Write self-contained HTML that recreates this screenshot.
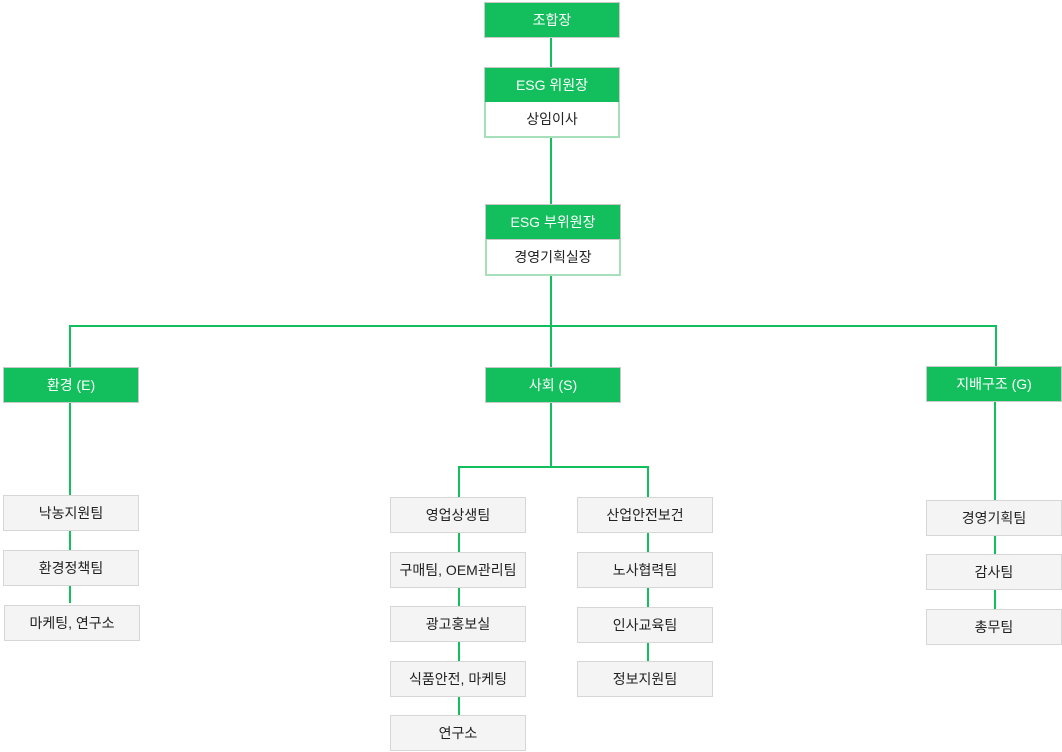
<!DOCTYPE html>
<html><head><meta charset="utf-8"><style>
body{margin:0;width:1062px;height:752px;background:#fff;position:relative;overflow:hidden;font-family:"Liberation Sans","Noto Sans CJK KR",sans-serif;font-size:14px}
.b{position:absolute;box-sizing:border-box;display:flex;align-items:center;justify-content:center;width:136px;height:36px}
.g{background:#12bf5c;color:#fff;border:1px solid #c9c9c9}
.w{background:#fff;color:#222;border:2px solid #a5e0bb;border-top:none}
.s{background:#f4f4f4;color:#222;border:1.5px solid #d6d6d6}
.l{position:absolute;background:#12bf5c}
</style></head><body>
<div class="l" style="left:550px;top:37px;width:2px;height:30px"></div>
<div class="l" style="left:550px;top:138px;width:2px;height:66px"></div>
<div class="l" style="left:550px;top:276px;width:2px;height:91px"></div>
<div class="l" style="left:69px;top:325px;width:928px;height:2px"></div>
<div class="l" style="left:69px;top:325px;width:2px;height:42px"></div>
<div class="l" style="left:995px;top:325px;width:2px;height:42px"></div>
<div class="l" style="left:69px;top:403px;width:2px;height:200px"></div>
<div class="l" style="left:550px;top:403px;width:2px;height:64px"></div>
<div class="l" style="left:458px;top:466px;width:191px;height:2px"></div>
<div class="l" style="left:458px;top:466px;width:2px;height:250px"></div>
<div class="l" style="left:647px;top:466px;width:2px;height:200px"></div>
<div class="l" style="left:994px;top:401px;width:2px;height:210px"></div>

<div class="b g" style="left:484px;top:2px">조합장</div>
<div class="b g" style="left:484px;top:67px">ESG 위원장</div>
<div class="b w" style="left:484px;top:102px">상임이사</div>
<div class="b g" style="left:485px;top:204px">ESG 부위원장</div>
<div class="b w" style="left:485px;top:240px">경영기획실장</div>
<div class="b g" style="left:3px;top:367px">환경 (E)</div>
<div class="b g" style="left:485px;top:367px">사회 (S)</div>
<div class="b g" style="left:926px;top:366px">지배구조 (G)</div>

<div class="b s" style="left:3px;top:495px">낙농지원팀</div>
<div class="b s" style="left:3px;top:550px">환경정책팀</div>
<div class="b s" style="left:4px;top:605px">마케팅, 연구소</div>

<div class="b s" style="left:390px;top:497px">영업상생팀</div>
<div class="b s" style="left:390px;top:552px">구매팀, OEM관리팀</div>
<div class="b s" style="left:390px;top:606px">광고홍보실</div>
<div class="b s" style="left:390px;top:661px">식품안전, 마케팅</div>
<div class="b s" style="left:390px;top:715px">연구소</div>

<div class="b s" style="left:577px;top:497px">산업안전보건</div>
<div class="b s" style="left:577px;top:552px">노사협력팀</div>
<div class="b s" style="left:577px;top:607px">인사교육팀</div>
<div class="b s" style="left:577px;top:661px">정보지원팀</div>

<div class="b s" style="left:926px;top:500px">경영기획팀</div>
<div class="b s" style="left:926px;top:554px">감사팀</div>
<div class="b s" style="left:926px;top:609px">총무팀</div>
</body></html>
